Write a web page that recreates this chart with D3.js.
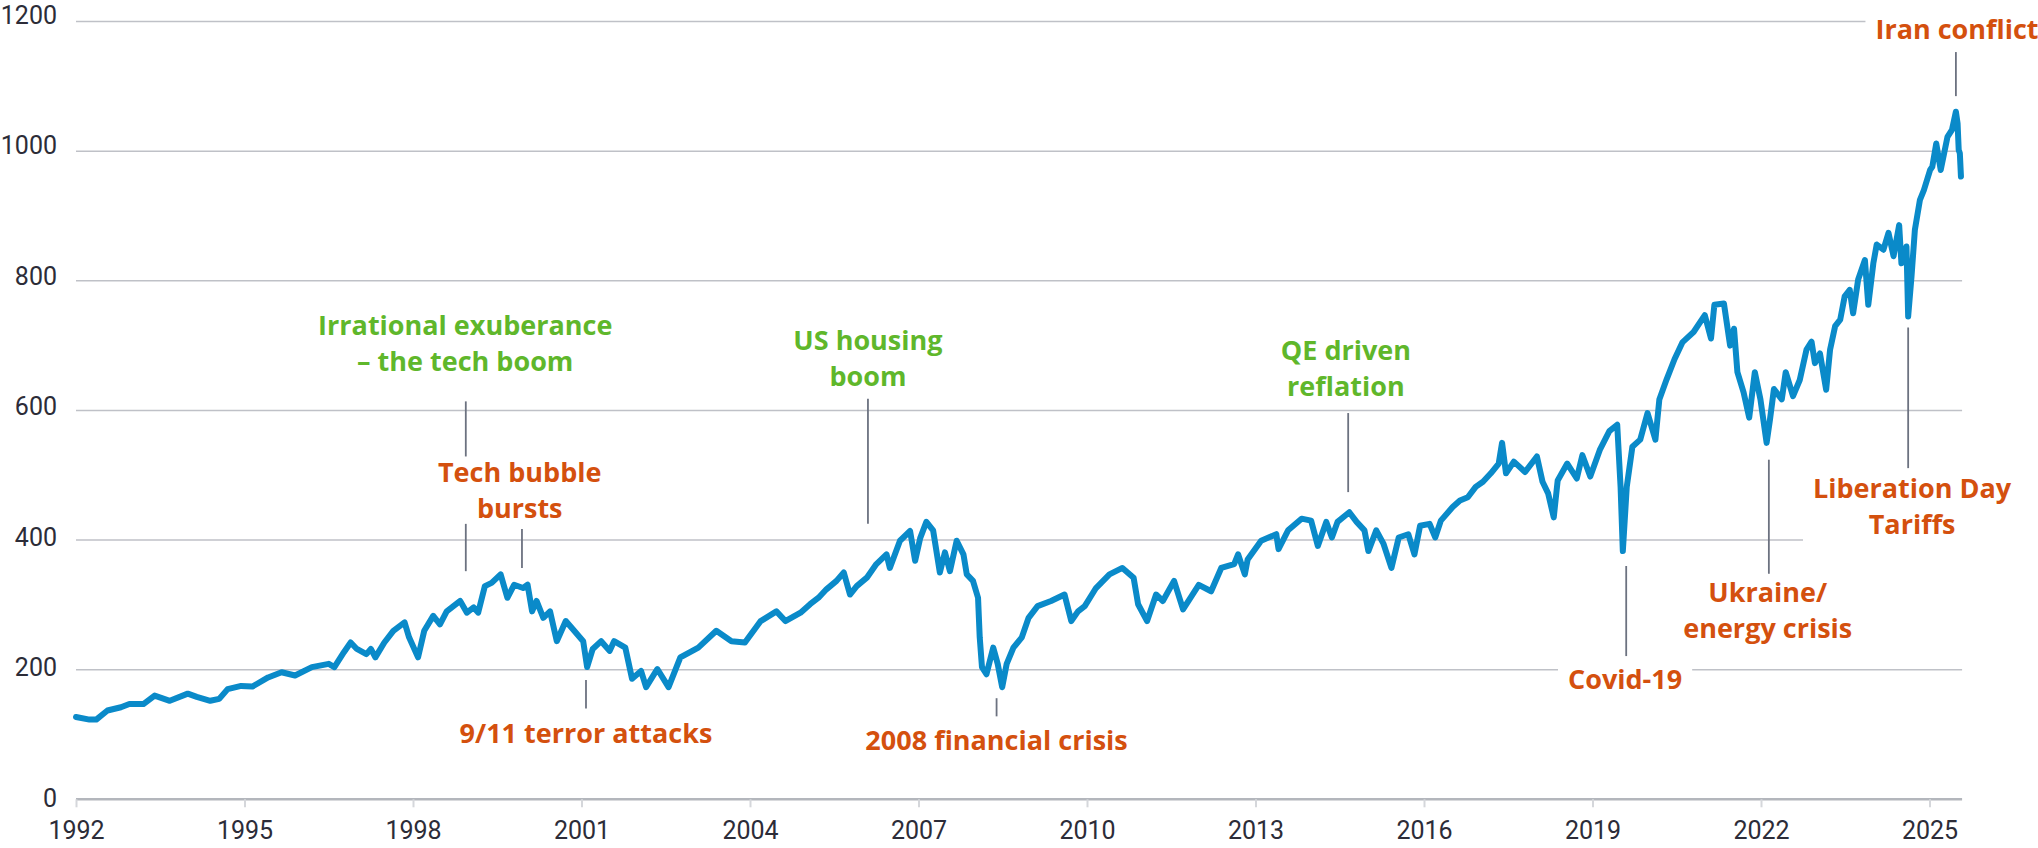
<!DOCTYPE html>
<html>
<head>
<meta charset="utf-8">
<script src="https://cdn.jsdelivr.net/npm/d3@7"></script>
<style>
  body { margin: 0; background: #fff; }
  svg { display: block; }
  .axis text { font-family: Roboto, "Open Sans", sans-serif; font-size: 25px; fill: #2c2c38; }
  .event { font-family: "Open Sans", sans-serif; font-weight: 700; font-size: 27px; }
</style>
</head>
<body>
<div id="chart"></div>
<script>
// index level (x in chart years)
const dates = [
  1992.00, 1992.24, 1992.36, 1992.56, 1992.80, 1992.95, 1993.20, 1993.40, 1993.67, 1993.99,
  1994.15, 1994.39, 1994.55, 1994.70, 1994.94, 1995.14, 1995.42, 1995.66, 1995.90, 1996.20,
  1996.50, 1996.60, 1996.77, 1996.89, 1997.00, 1997.17, 1997.25, 1997.33, 1997.49, 1997.65,
  1997.85, 1997.93, 1998.09, 1998.20, 1998.36, 1998.48, 1998.60, 1998.84, 1998.96, 1999.08,
  1999.16, 1999.28, 1999.40, 1999.56, 1999.68, 1999.80, 1999.96, 2000.04, 2000.12, 2000.20,
  2000.32, 2000.44, 2000.56, 2000.72, 2000.87, 2001.03, 2001.10, 2001.20, 2001.35, 2001.50,
  2001.58, 2001.78, 2001.90, 2002.06, 2002.15, 2002.35, 2002.55, 2002.76, 2003.08, 2003.40,
  2003.67, 2003.91, 2004.19, 2004.47, 2004.63, 2004.90, 2005.07, 2005.22, 2005.36, 2005.54,
  2005.67, 2005.78, 2005.90, 2006.08, 2006.25, 2006.43, 2006.49, 2006.67, 2006.85, 2006.94,
  2007.03, 2007.14, 2007.26, 2007.38, 2007.47, 2007.56, 2007.68, 2007.80, 2007.86, 2007.97,
  2008.06, 2008.09, 2008.13, 2008.21, 2008.33, 2008.41, 2008.49, 2008.57, 2008.69, 2008.84,
  2008.96, 2009.12, 2009.36, 2009.60, 2009.72, 2009.84, 2009.96, 2010.16, 2010.40, 2010.63,
  2010.83, 2010.91, 2011.07, 2011.23, 2011.35, 2011.55, 2011.71, 2011.99, 2012.21, 2012.39,
  2012.62, 2012.69, 2012.81, 2012.86, 2013.10, 2013.37, 2013.41, 2013.58, 2013.82, 2013.99,
  2014.11, 2014.26, 2014.36, 2014.46, 2014.67, 2014.80, 2014.94, 2015.01, 2015.15, 2015.28,
  2015.42, 2015.55, 2015.72, 2015.83, 2015.93, 2016.10, 2016.20, 2016.30, 2016.51, 2016.64,
  2016.78, 2016.92, 2017.05, 2017.19, 2017.33, 2017.39, 2017.46, 2017.60, 2017.80, 2018.01,
  2018.11, 2018.21, 2018.31, 2018.38, 2018.55, 2018.72, 2018.82, 2018.96, 2019.13, 2019.30,
  2019.44, 2019.50, 2019.54, 2019.61, 2019.71, 2019.85, 2019.98, 2020.12, 2020.19, 2020.32,
  2020.46, 2020.60, 2020.80, 2021.00, 2021.11, 2021.17, 2021.34, 2021.45, 2021.52, 2021.58,
  2021.69, 2021.79, 2021.89, 2021.99, 2022.10, 2022.16, 2022.23, 2022.37, 2022.44, 2022.57,
  2022.69, 2022.81, 2022.90, 2022.96, 2023.05, 2023.16, 2023.23, 2023.32, 2023.41, 2023.49,
  2023.58, 2023.64, 2023.73, 2023.85, 2023.91, 2024.00, 2024.06, 2024.18, 2024.27, 2024.36,
  2024.46, 2024.50, 2024.59, 2024.62, 2024.68, 2024.74, 2024.83, 2024.90, 2025.01, 2025.05,
  2025.12, 2025.20, 2025.32, 2025.40, 2025.47, 2025.50, 2025.52, 2025.54, 2025.56
];
const index = [
  127, 123, 123, 137, 142, 147, 147, 160, 152, 163,
  158, 152, 155, 170, 175, 174, 188, 196, 191, 204,
  209, 204, 227, 242, 232, 224, 232, 219, 242, 260,
  273, 250, 219, 260, 283, 270, 290, 306, 288, 296,
  288, 329, 334, 347, 311, 331, 326, 331, 290, 306,
  280, 290, 244, 275, 260, 244, 204, 232, 244, 229,
  244, 234, 186, 198, 173, 201, 173, 219, 234, 260,
  244, 242, 275, 290, 275, 288, 301, 311, 324, 337,
  350, 316, 329, 342, 363, 378, 357, 399, 414, 368,
  403, 428, 415, 350, 381, 352, 399, 378, 347, 337,
  311, 250, 204, 193, 234, 209, 173, 209, 234, 250,
  280, 298, 306, 316, 275, 290, 298, 326, 347, 357,
  342, 301, 275, 316, 306, 337, 293, 331, 321, 357,
  363, 378, 347, 370, 399, 409, 386, 415, 433, 430,
  391, 428, 404, 428, 443, 428, 415, 383, 415, 394,
  357, 404, 409, 378, 422, 425, 404, 430, 451, 461,
  466, 482, 490, 503, 518, 550, 503, 521, 505, 529,
  490, 472, 435, 492, 518, 495, 531, 498, 539, 568,
  578, 482, 383, 482, 544, 555, 596, 555, 617, 648,
  679, 705, 721, 747, 711, 763, 765, 700, 726, 659,
  628, 589, 659, 617, 550, 586, 633, 617, 659, 622,
  647, 694, 706, 673, 688, 632, 694, 730, 740, 776,
  786, 750, 802, 832, 763, 827, 856, 848, 874, 838,
  886, 827, 853, 745, 807, 879, 925, 940, 971, 976,
  1012, 971, 1022, 1033, 1061, 1043, 1002, 997, 961
];

const xTicks = [1992, 1995, 1998, 2001, 2004, 2007, 2010, 2013, 2016, 2019, 2022, 2025];
const yTicks = [0, 200, 400, 600, 800, 1000, 1200];

// events: label lines, label anchor (year, value of first baseline), leader lines (year, from, to)
const events = [
  { text: ["Irrational exuberance", "– the tech boom"], kind: "up", at: [1998.93, 717], leaders: [[1998.94, 529, 614]] },
  { text: ["Tech bubble", "bursts"], kind: "down", at: [1999.90, 490], leaders: [[1998.94, 352, 425], [1999.94, 357, 417]] },
  { text: ["9/11 terror attacks"], kind: "down", at: [2001.08, 87], leaders: [[2001.08, 140, 184]] },
  { text: ["US housing", "boom"], kind: "up", at: [2006.10, 694], leaders: [[2006.10, 425, 618]] },
  { text: ["2008 financial crisis"], kind: "down", at: [2008.39, 76], leaders: [[2008.39, 128, 156]] },
  { text: ["QE driven", "reflation"], kind: "up", at: [2014.61, 678], leaders: [[2014.65, 474, 596]] },
  { text: ["Covid-19"], kind: "down", at: [2019.58, 170], leaders: [[2019.60, 221, 360]] },
  { text: ["Ukraine/", "energy crisis"], kind: "down", at: [2022.12, 305], leaders: [[2022.14, 348, 524]] },
  { text: ["Liberation Day", "Tariffs"], kind: "down", at: [2024.69, 465], leaders: [[2024.62, 511, 728]] },
  { text: ["Iran conflict"], kind: "down", at: [2025.49, 1173], leaders: [[2025.47, 1085, 1153]] }
];

const COLORS = {
  line: "#0a8ac9",
  up: "#5fb72b",
  down: "#d4500e",
  grid: "#bfc1c7",
  axis: "#b3b6bc",
  leader: "#6c7280"
};

const W = 2038, H = 848;
const LINE_GAP = 36;

const svg = d3.select("#chart").append("svg")
  .attr("width", W)
  .attr("height", H);

const x = d3.scaleLinear().domain([1992, 2025]).range([76, 1929.5]);
const y = d3.scaleLinear().domain([0, 1200]).range([799.3, 21.6]);
// the value labels sit on a slightly wider spacing than the grid
const yLabel = d3.scaleLinear().domain([0, 1200]).range([798, 15]);
const gridEnd = x(2025.58);

// gridlines
svg.append("g")
  .selectAll("line")
  .data(yTicks)
  .join("line")
  .attr("x1", x(1992))
  .attr("x2", gridEnd)
  .attr("y1", d => y(d))
  .attr("y2", d => y(d))
  .attr("stroke", d => d === 0 ? COLORS.axis : COLORS.grid)
  .attr("stroke-width", d => d === 0 ? 2.5 : 1.5);

// y labels
const yAxis = svg.append("g")
  .attr("class", "axis")
  .attr("transform", "translate(57,0)")
  .call(d3.axisLeft(yLabel).tickValues(yTicks).tickFormat(d3.format("d")).tickSize(0).tickPadding(0));
yAxis.select(".domain").remove();

// x axis
const xAxis = svg.append("g")
  .attr("class", "axis")
  .attr("transform", `translate(0,${y(0)})`)
  .call(d3.axisBottom(x).tickValues(xTicks).tickFormat(d3.format("d")).tickSize(8).tickPadding(14));
xAxis.select(".domain").remove();
xAxis.selectAll(".tick line").attr("stroke", "#d5d7db").attr("stroke-width", 2);

// white boxes behind labels (filled after text is measured)
const bgLayer = svg.append("g");

// index line
const line = d3.line()
  .x((d, i) => x(dates[i]))
  .y(d => y(d));

svg.append("path")
  .datum(index)
  .attr("d", line)
  .attr("fill", "none")
  .attr("stroke", COLORS.line)
  .attr("stroke-width", 6)
  .attr("stroke-linejoin", "round")
  .attr("stroke-linecap", "round");

// leader lines
svg.append("g")
  .selectAll("line")
  .data(events.flatMap(e => e.leaders))
  .join("line")
  .attr("x1", d => x(d[0]))
  .attr("x2", d => x(d[0]))
  .attr("y1", d => y(d[1]))
  .attr("y2", d => y(d[2]))
  .attr("stroke", COLORS.leader)
  .attr("stroke-width", 1.8);

// event labels
const labels = svg.append("g")
  .selectAll("text")
  .data(events)
  .join("text")
  .attr("class", "event")
  .attr("text-anchor", "middle")
  .attr("x", d => x(d.at[0]))
  .attr("y", d => y(d.at[1]))
  .attr("fill", d => COLORS[d.kind]);

labels.selectAll("tspan")
  .data(d => d.text.map((t, i) => ({ t, i, x: x(d.at[0]) })))
  .join("tspan")
  .attr("x", d => d.x)
  .attr("dy", d => d.i === 0 ? 0 : LINE_GAP)
  .text(d => d.t);

labels.each(function () {
  const b = this.getBBox();
  bgLayer.append("rect")
    .attr("x", b.x - 10)
    .attr("y", b.y - 2)
    .attr("width", b.width + 20)
    .attr("height", b.height + 4)
    .attr("fill", "#fff");
});
</script>
</body>
</html>
